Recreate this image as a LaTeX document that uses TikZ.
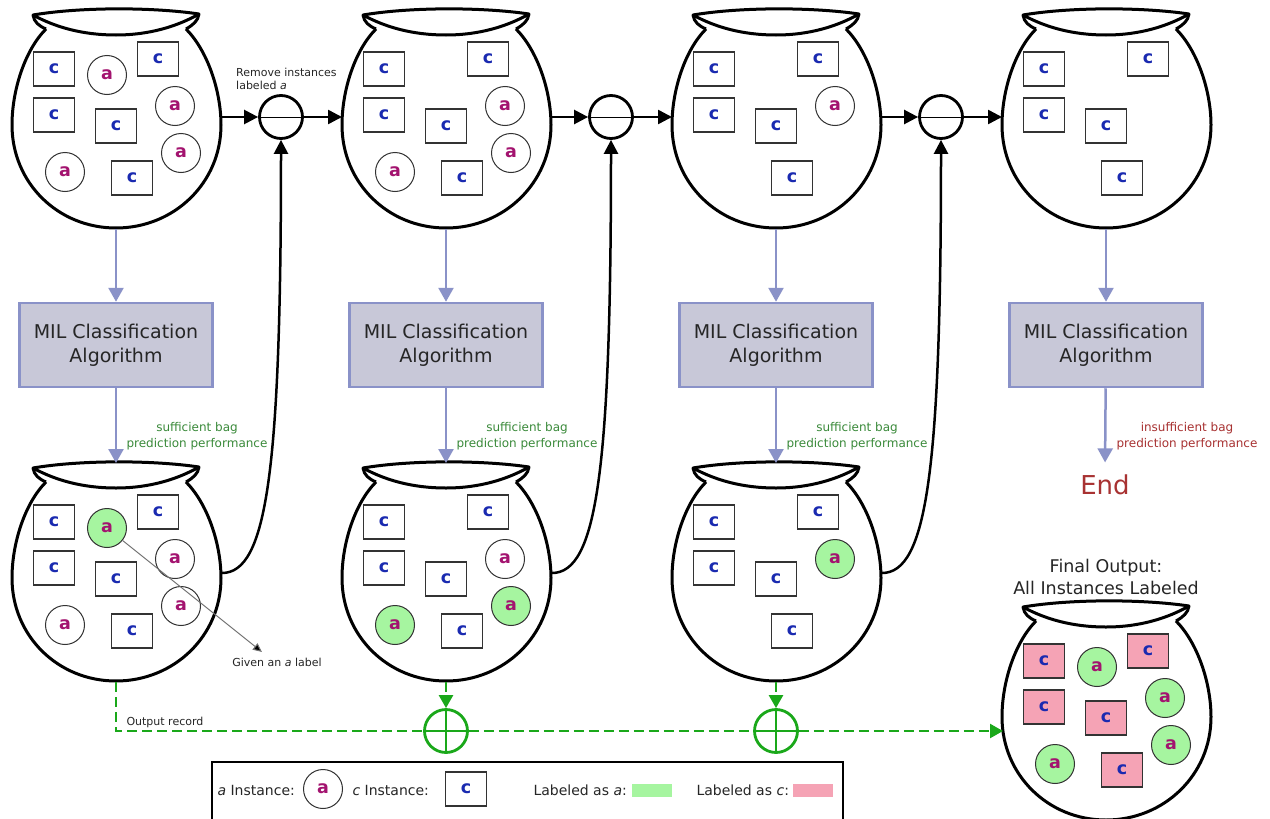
\documentclass[tikz,border=0pt]{standalone}
\usepackage{fontspec}
\setmainfont{DejaVu Sans}
\usetikzlibrary{arrows.meta}
\definecolor{amag}{HTML}{A3136F}
\definecolor{cblue}{HTML}{1A2AB0}
\definecolor{lgreen}{HTML}{A6F5A0}
\definecolor{lpink}{HTML}{F5A3B5}
\definecolor{mblue}{HTML}{8A92C8}
\definecolor{milfill}{HTML}{C8C8D8}
\definecolor{dgreen}{HTML}{1AA81A}
\definecolor{tgreen}{HTML}{3A8A3A}
\definecolor{tred}{HTML}{A83232}
\definecolor{txt}{HTML}{262626}
\newcommand\instC[3][]{\node[cbox,#1] (#2) at #3 {c};}
\newcommand\instA[3][]{\node[acirc,#1] (#2) at #3 {a};}
\tikzset{
  bagline/.style={line width=3pt, draw=black, line join=round},
  acirc/.style={circle, draw=black!80, line width=1pt, minimum size=39pt, inner sep=0pt,
    text=amag, font=\fontsize{17.5}{17.5}\selectfont\bfseries},
  cbox/.style={rectangle, draw=black!80, line width=1.3pt, minimum width=41pt, minimum height=34pt,
    inner sep=0pt, text=cblue, font=\fontsize{17.5}{17.5}\selectfont\bfseries},
  ga/.style={fill=lgreen},
  pc/.style={fill=lpink},
  minusnode/.style={circle, draw=black, line width=2.8pt, minimum size=43pt, inner sep=0pt},
  plusnode/.style={circle, draw=dgreen, line width=2.8pt, minimum size=43pt, inner sep=0pt},
  blk/.style={draw=black, line width=2.5pt, -{Triangle[length=14pt,width=14pt]}},
  blu/.style={draw=mblue, line width=2.5pt, -{Triangle[length=14pt,width=15pt]}},
  milbox/.style={rectangle, fill=milfill, draw=mblue, line width=2.5pt, minimum width=193pt,
    minimum height=84pt, align=center, font=\fontsize{19}{24}\selectfont, text=txt},
  gdash/.style={draw=dgreen, line width=2.4pt, dash pattern=on 10pt off 5pt},
  gtip/.style={-{Triangle[length=13pt,width=14pt]}},
  perf/.style={align=center, font=\fontsize{12}{16}\selectfont},
  small/.style={font=\fontsize{11}{13}\selectfont, text=txt},
  lg/.style={font=\fontsize{14}{16}\selectfont, text=txt, anchor=west},
  bag/.pic={
    \draw[bagline,fill=white] (46,29) .. controls (25,50) and (12,90) .. (12,125)
      .. controls (12,183) and (58,228) .. (116,228)
      .. controls (174,228) and (221,183) .. (221,125)
      .. controls (221,90) and (207,50) .. (186,29);
    \draw[bagline,fill=white] (33,15) .. controls (80,7) and (152,7) .. (199,14)
      .. controls (178,26) and (150,35) .. (116,35)
      .. controls (82,35) and (55,27) .. cycle;
    \draw[bagline] (33,15) .. controls (34,22) and (39,26) .. (46,29);
    \draw[bagline] (199,14) .. controls (198,21) and (193,25) .. (186,29);
    \coordinate (-right) at (221,117);
    \coordinate (-left) at (12,117);
    \coordinate (-bottom) at (116,229);
    \coordinate (-top) at (116,10);
    \coordinate (-side) at (222,120);
    \coordinate (-in) at (13,139);
  }
}
\begin{document}
\begin{tikzpicture}[x=1pt,y=-1pt]
\fill[white] (0,0) rectangle (1270,819);
\useasboundingbox (0,0) rectangle (1270,819);

% ---------- top row ----------
\begin{scope}[shift={(0,0)}]
  \pic (t1) at (0,0) {bag};
  \instC{t1c1}{(54,69)} \instA{t1a1}{(107,75)} \instC{t1c2}{(158,59)}
  \instC{t1c3}{(54,115)} \instA{t1a2}{(175,106)} \instC{t1c4}{(116,126)}
  \instA{t1a3}{(181,153)} \instA{t1a4}{(65,172)} \instC{t1c5}{(132,178)}
\end{scope}
\begin{scope}[shift={(330,0)}]
  \pic (t2) at (0,0) {bag};
  \instC{t2c1}{(54,69)} \instC{t2c2}{(158,59)}
  \instC{t2c3}{(54,115)} \instA{t2a2}{(175,106)} \instC{t2c4}{(116,126)}
  \instA{t2a3}{(181,153)} \instA{t2a4}{(65,172)} \instC{t2c5}{(132,178)}
\end{scope}
\begin{scope}[shift={(660,0)}]
  \pic (t3) at (0,0) {bag};
  \instC{t3c1}{(54,69)} \instC{t3c2}{(158,59)}
  \instC{t3c3}{(54,115)} \instA{t3a2}{(175,106)} \instC{t3c4}{(116,126)}
  \instC{t3c5}{(132,178)}
\end{scope}
\begin{scope}[shift={(990,0)}]
  \pic (t4) at (0,0) {bag};
  \instC{t4c1}{(54,69)} \instC{t4c2}{(158,59)}
  \instC{t4c3}{(54,115)} \instC{t4c4}{(116,126)}
  \instC{t4c5}{(132,178)}
\end{scope}

% ---------- bottom row ----------
\begin{scope}[shift={(0,453)}]
  \pic (b1) at (0,0) {bag};
  \instC{b1c1}{(54,69)} \instA[ga]{b1a1}{(107,75)} \instC{b1c2}{(158,59)}
  \instC{b1c3}{(54,115)} \instA{b1a2}{(175,106)} \instC{b1c4}{(116,126)}
  \instA{b1a3}{(181,153)} \instA{b1a4}{(65,172)} \instC{b1c5}{(132,178)}
\end{scope}
\begin{scope}[shift={(330,453)}]
  \pic (b2) at (0,0) {bag};
  \instC{b2c1}{(54,69)} \instC{b2c2}{(158,59)}
  \instC{b2c3}{(54,115)} \instA{b2a2}{(175,106)} \instC{b2c4}{(116,126)}
  \instA[ga]{b2a3}{(181,153)} \instA[ga]{b2a4}{(65,172)} \instC{b2c5}{(132,178)}
\end{scope}
\begin{scope}[shift={(660,453)}]
  \pic (b3) at (0,0) {bag};
  \instC{b3c1}{(54,69)} \instC{b3c2}{(158,59)}
  \instC{b3c3}{(54,115)} \instA[ga]{b3a2}{(175,106)} \instC{b3c4}{(116,126)}
  \instC{b3c5}{(132,178)}
\end{scope}
\begin{scope}[shift={(990,592)}]
  \pic (fb) at (0,0) {bag};
  \instC[pc]{fbc1}{(54,69)} \instA[ga]{fba1}{(107,75)} \instC[pc]{fbc2}{(158,59)}
  \instC[pc]{fbc3}{(54,115)} \instA[ga]{fba2}{(175,106)} \instC[pc]{fbc4}{(116,126)}
  \instA[ga]{fba3}{(181,153)} \instA[ga]{fba4}{(65,172)} \instC[pc]{fbc5}{(132,178)}
\end{scope}

% ---------- MIL boxes ----------
\node[milbox] (mil1) at (116,345) {MIL Classification\\Algorithm};
\node[milbox] (mil2) at (446,345) {MIL Classification\\Algorithm};
\node[milbox] (mil3) at (776,345) {MIL Classification\\Algorithm};
\node[milbox] (mil4) at (1106,345) {MIL Classification\\Algorithm};

% ---------- minus / plus nodes ----------
\node[minusnode] (m1) at (281,117) {};
\node[minusnode] (m2) at (611,117) {};
\node[minusnode] (m3) at (941,117) {};
\foreach \m in {m1,m2,m3} \draw[line width=1pt] (\m.west) -- (\m.east);
\node[plusnode] (p1) at (446,731) {};
\node[plusnode] (p2) at (776,731) {};
\foreach \p in {p1,p2} {
  \draw[dgreen, line width=2.5pt] (\p.west) -- (\p.east);
  \draw[dgreen, line width=2.5pt] (\p.north) -- (\p.south);
}

% ---------- labels ----------
\node[small, anchor=north west, align=left, inner sep=0pt] (rem) at (236,68) {Remove instances\\labeled \textit{a}};
\node[perf, text=tgreen] (s1) at (197,436) {sufficient bag\\prediction performance};
\node[perf, text=tgreen] (s2) at (527,436) {sufficient bag\\prediction performance};
\node[perf, text=tgreen] (s3) at (857,436) {sufficient bag\\prediction performance};
\node[perf, text=tred] (s4) at (1187,436) {insufficient bag\\prediction performance};
\node[font=\fontsize{26}{28}\selectfont, text=tred] (endn) at (1105,485) {End};
\node[small] (gl) at (277,662) {Given an \textit{a} label};
\coordinate (gtipc) at (262,652);
\node[small, anchor=west] (outrec) at (123,722) {Output record};
\node[align=center, font=\fontsize{17.5}{22}\selectfont, text=txt] (fo) at (1106,577) {Final Output:\\All Instances Labeled};

% ---------- connectors ----------
\draw[blk] (t1-right) -- (m1);
\draw[blk] (m1) -- (t2-left);
\draw[blk] (t2-right) -- (m2);
\draw[blk] (m2) -- (t3-left);
\draw[blk] (t3-right) -- (m3);
\draw[blk] (m3) -- (t4-left);
\draw[blk] (b1-side) .. controls +(45,0) and +(0,330) .. (m1.south);
\draw[blk] (b2-side) .. controls +(45,0) and +(0,330) .. (m2.south);
\draw[blk] (b3-side) .. controls +(45,0) and +(0,330) .. (m3.south);

\draw[blu] (t1-bottom) -- (mil1);
\draw[blu] (t2-bottom) -- (mil2);
\draw[blu] (t3-bottom) -- (mil3);
\draw[blu] (t4-bottom) -- (mil4);
\draw[blu] (mil1) -- (b1-top);
\draw[blu] (mil2) -- (b2-top);
\draw[blu] (mil3) -- (b3-top);
\draw[blu, shorten >=9pt] (mil4) -- (endn.north);

\draw[black!55, line width=1pt, -{Triangle[length=9pt,width=8pt,fill=black]}] (b1a1) -- (gtipc);

\draw[gdash] (b1-bottom) |- (p1);
\draw[gdash] (p1) -- (p2);
\draw[gdash, gtip] (p2) -- (fb-in);
\draw[gdash, gtip] (b2-bottom) -- (p1);
\draw[gdash, gtip] (b3-bottom) -- (p2);

% ---------- legend ----------
\draw[line width=2pt] (212,762) rectangle (843,850);
\node[lg] (lga) at (214,790) {\textit{a} Instance:};
\instA{lgai}{(323,789)}
\node[lg] (lgc) at (349,790) {\textit{c} Instance:};
\instC{lgci}{(466,789)}
\node[lg] (lgla) at (530,790) {Labeled as \textit{a}:};
\node[fill=lgreen, minimum width=40pt, minimum height=13pt, inner sep=0pt] (lgg) at (652,790) {};
\node[lg] (lglc) at (693,790) {Labeled as \textit{c}:};
\node[fill=lpink, minimum width=40pt, minimum height=13pt, inner sep=0pt] (lgp) at (813,790) {};
\end{tikzpicture}
\end{document}
